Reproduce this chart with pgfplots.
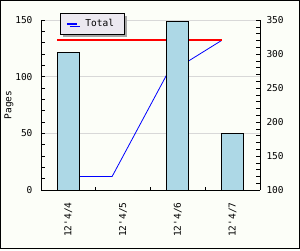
\documentclass[border=0pt]{standalone}
\usepackage{fontspec}
\setmonofont{DejaVu Sans Mono}
\usepackage{pgfplots}
\pgfplotsset{compat=1.18}
\usetikzlibrary{shadows}
\definecolor{bg}{RGB}{252,254,248}
\definecolor{barfill}{RGB}{173,216,230}
\definecolor{legfill}{RGB}{236,233,240}
\definecolor{gridc}{RGB}{216,216,216}
\newcommand{\lblfont}{\ttfamily\fontsize{9.5}{11}\selectfont}
\begin{document}
\begin{tikzpicture}[x=1pt,y=1pt]
\fill[bg] (0,0) rectangle (300,250);
\path[use as bounding box] (0,0) rectangle (300,250);
\pgfplotsset{
  base/.style={scale only axis, width=219pt, height=170pt,
    at={(41pt,60pt)}, anchor=south west,
    xmin=-0.5, xmax=3.5,
    /pgf/number format/assume math mode=true,
    ticklabel style={font=\lblfont},
    axis line style={-, line width=0.8pt},
    major tick length=4pt, minor tick length=3.5pt,
    tick style={black, line width=0.6pt},
  }
}
\begin{axis}[base,
  ymin=0, ymax=150,
  axis y line*=left, axis x line*=bottom,
  ytick={0,50,100,150}, minor ytick={10,20,30,40,60,70,80,90,110,120,130,140},
  ymajorgrids, grid style={gridc, line width=0.8pt},
  xtick={0,1,2,3}, xticklabels={12'4/4,12'4/5,12'4/6,12'4/7},
  minor xtick={0.5,1.5,2.5},
  major x tick style={draw=none},
  xticklabel style={rotate=90, anchor=east},
  xticklabel shift=9pt,
  yticklabel shift=5pt,
  ylabel={Pages}, ylabel style={font=\lblfont, yshift=-5pt},
]
\end{axis}
\begin{axis}[base,
  ymin=100, ymax=350,
  axis y line*=right, axis x line=none,
  ytick={100,150,200,250,300,350},
  minor ytick={110,120,130,140,160,170,180,190,210,220,230,240,260,270,280,290,310,320,330,340},
  yticklabel shift=3pt,
  legend style={at={(0.087,1.041)}, anchor=north west,
    draw=black, fill=legfill, line width=0.8pt, font=\lblfont,
    inner xsep=5.5pt, inner ysep=1.5pt, column sep=3pt,
    nodes={inner sep=4.5pt},
    drop shadow={shadow xshift=3pt, shadow yshift=-3pt, fill=gray!70, opacity=1}},
]
\addplot[blue, line width=0.8pt,
  legend image code/.code={\draw[blue, line width=2pt] (0pt,0pt) -- (10pt,0pt);}]
  coordinates {(-0.2,120) (0.8,120) (1.8,270) (2.8,320)};
\addlegendentry{Total}
\addplot[red, line width=2pt, forget plot] coordinates {(-0.2,320) (2.8,320)};
\end{axis}
\begin{axis}[base, ymin=0, ymax=150, hide axis, ybar, bar width=22pt]
\addplot[fill=barfill, draw=black, line width=0.8pt] coordinates {(0,121) (1,0) (2,149) (3,50)};
\end{axis}
\draw[black, line width=1pt] (0.5,1.5) rectangle (299.5,249.5);
\end{tikzpicture}
\end{document}
